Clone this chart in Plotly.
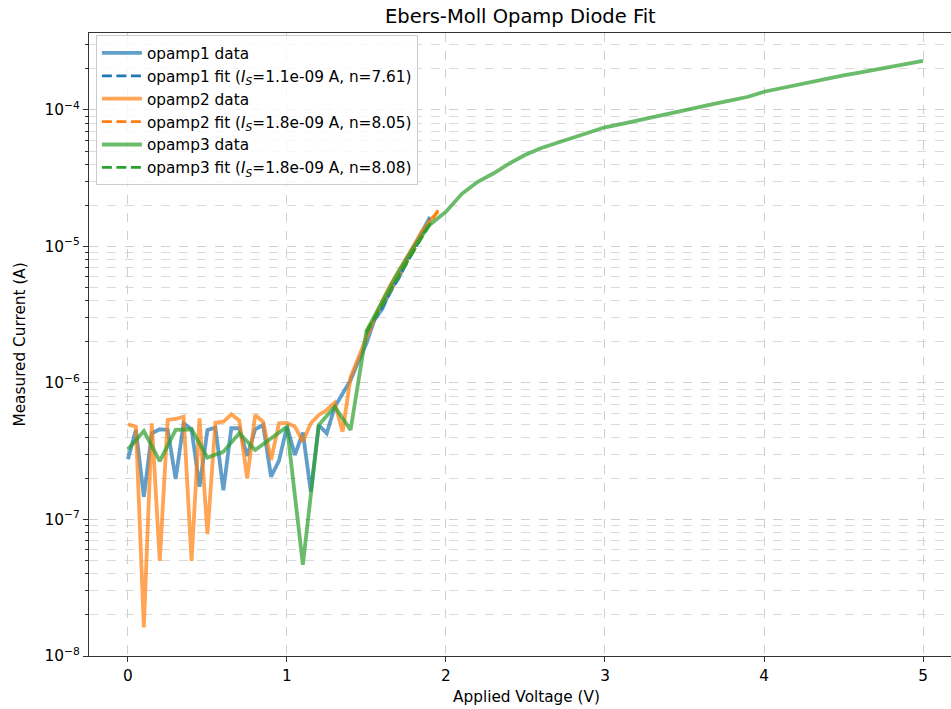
import plotly.graph_objects as go

# ---------------- data ----------------
v_fine = [round(i * 0.05, 2) for i in range(40)]          # 0.00 .. 1.95
v_coarse = [round(i * 0.1, 1) for i in range(51)]          # 0.0 .. 5.0

opamp1_v = v_fine[:39]                                      # 0.00 .. 1.90
opamp1_i = [2.76e-7, 4.53e-7, 1.47e-7, 4.28e-7, 4.58e-7, 4.53e-7, 1.98e-7, 5.07e-7,
            4.58e-7, 1.74e-7, 4.53e-7, 4.71e-7, 1.64e-7, 4.66e-7, 4.66e-7, 2.92e-7,
            4.58e-7, 4.92e-7, 2.06e-7, 2.70e-7, 4.79e-7, 2.97e-7, 4.33e-7, 1.60e-7,
            4.92e-7, 4.28e-7, 6.66e-7, 8.41e-7, 1.05e-6, 1.45e-6, 1.95e-6, 2.90e-6,
            3.50e-6, 4.80e-6, 5.80e-6, 7.80e-6, 1.00e-5, 1.30e-5, 1.65e-5]

opamp2_v = v_fine                                           # 0.00 .. 1.95
opamp2_i = [4.98e-7, 4.79e-7, 1.62e-8, 5.07e-7, 4.97e-8, 5.36e-7, 5.45e-7, 5.66e-7,
            4.97e-8, 5.51e-7, 7.83e-8, 5.12e-7, 5.20e-7, 5.90e-7, 5.30e-7, 2.00e-7,
            5.83e-7, 5.20e-7, 2.73e-7, 5.07e-7, 5.10e-7, 4.79e-7, 3.72e-7, 5.07e-7,
            5.83e-7, 6.34e-7, 7.17e-7, 4.40e-7, 1.10e-6, 1.55e-6, 2.10e-6, 3.00e-6,
            4.00e-6, 5.20e-6, 6.50e-6, 8.20e-6, 1.05e-5, 1.30e-5, 1.55e-5, 1.80e-5]

opamp3_v = v_coarse                                         # 0.0 .. 5.0
opamp3_i = [3.27e-7, 4.45e-7, 2.68e-7, 4.53e-7, 4.58e-7, 2.84e-7, 3.14e-7, 4.28e-7,
            3.23e-7, 3.93e-7, 4.79e-7, 4.65e-8, 4.92e-7, 6.70e-7, 4.53e-7, 2.40e-6,
            4.00e-6, 6.50e-6, 1.00e-5, 1.45e-5, 1.80e-5, 2.43e-5, 2.98e-5, 3.44e-5,
            4.07e-5, 4.70e-5, 5.27e-5, 5.73e-5, 6.25e-5, 6.85e-5, 7.47e-5, 7.88e-5,
            8.37e-5, 8.89e-5, 9.43e-5, 1.00e-4, 1.06e-4, 1.12e-4, 1.18e-4, 1.25e-4,
            1.36e-4, 1.44e-4, 1.52e-4, 1.61e-4, 1.69e-4, 1.79e-4, 1.88e-4, 1.97e-4,
            2.07e-4, 2.18e-4, 2.29e-4]

fit1_v = [1.50, 1.55, 1.60, 1.65, 1.70, 1.75, 1.80, 1.85, 1.90]
fit1_i = [2.25e-6, 2.90e-6, 3.60e-6, 4.60e-6, 5.80e-6, 7.40e-6, 9.40e-6, 1.20e-5, 1.60e-5]
fit2_v = [1.50, 1.55, 1.60, 1.65, 1.70, 1.75, 1.80, 1.85, 1.90, 1.95]
fit2_i = [2.40e-6, 3.00e-6, 3.80e-6, 4.70e-6, 6.00e-6, 7.50e-6, 9.40e-6, 1.18e-5, 1.48e-5, 1.85e-5]
fit3_v = [1.5, 1.6, 1.7, 1.8, 1.9]
fit3_i = [2.35e-6, 3.80e-6, 6.00e-6, 9.40e-6, 1.47e-5]

names = ["opamp1 data", "opamp1 fit (<i>I<sub>S</sub></i>=1.1e-09 A, n=7.61)",
         "opamp2 data", "opamp2 fit (<i>I<sub>S</sub></i>=1.8e-09 A, n=8.05)",
         "opamp3 data", "opamp3 fit (<i>I<sub>S</sub></i>=1.8e-09 A, n=8.08)"]

x_ticks = [0, 1, 2, 3, 4, 5]
y_major = [1e-8, 1e-7, 1e-6, 1e-5, 1e-4]
y_major_text = ["10<sup>−8</sup>", "10<sup>−7</sup>", "10<sup>−6</sup>",
                "10<sup>−5</sup>", "10<sup>−4</sup>"]
y_minor = [m * 10 ** e for e in range(-8, -3) for m in range(2, 10)]

# ---------------- figure ----------------
FONT = "DejaVu Sans"
FS = 15.3
C1, C2, C3 = "#1f77b4", "#ff7f0e", "#2ca02c"

fig = go.Figure()
series = [
    (opamp1_v, opamp1_i, fit1_v, fit1_i, C1),
    (opamp2_v, opamp2_i, fit2_v, fit2_i, C2),
    (opamp3_v, opamp3_i, fit3_v, fit3_i, C3),
]
for k, (dv, di, fv, fi, c) in enumerate(series):
    fig.add_trace(go.Scatter(x=dv, y=di, mode="lines", name=names[2 * k],
                             line=dict(color=c, width=3.8), opacity=0.7))
    fig.add_trace(go.Scatter(x=fv, y=fi, mode="lines", name=names[2 * k + 1],
                             line=dict(color=c, width=2.8, dash="10px,4.5px")))

fig.update_layout(
    width=951, height=709,
    margin=dict(l=89, r=0, t=33, b=53),
    paper_bgcolor="white", plot_bgcolor="white",
    font=dict(family=FONT, size=FS, color="black"),
    showlegend=True,
    legend=dict(x=0.008, y=0.996, xanchor="left", yanchor="top",
                bgcolor="rgba(255,255,255,0.8)", bordercolor="#cccccc", borderwidth=1,
                font=dict(family=FONT, size=FS), tracegroupgap=0, itemwidth=40),
    annotations=[
        dict(text="Ebers-Moll Opamp Diode Fit", xref="paper", yref="paper",
             x=0.5, y=1, yshift=17, xanchor="center", yanchor="middle",
             showarrow=False, font=dict(family=FONT, size=19.5)),
        dict(text="Applied Voltage (V)", xref="paper", yref="paper",
             x=0.507, y=0, yshift=-41, xanchor="center", yanchor="middle",
             showarrow=False, font=dict(family=FONT, size=FS)),
        dict(text="Measured Current (A)", xref="paper", yref="paper",
             x=0, xshift=-70, y=0.5, xanchor="center", yanchor="middle",
             textangle=-90, showarrow=False, font=dict(family=FONT, size=FS)),
    ],
)

fig.update_xaxes(
    range=[-0.245, 5.176], tickvals=x_ticks, ticktext=[str(t) for t in x_ticks],
    ticks="outside", ticklen=5, tickwidth=1.2, tickcolor="#333333",
    showline=True, linecolor="#333333", linewidth=1.3, mirror=True,
    showgrid=True, gridcolor="#cfcfcf", griddash="dash", gridwidth=1,
    zeroline=False, tickfont=dict(family=FONT, size=FS),
)
fig.update_yaxes(
    type="log", range=[-8, -3.436],
    tickvals=y_major, ticktext=y_major_text,
    ticks="outside", ticklen=5, tickwidth=1.2, tickcolor="#333333",
    showline=True, linecolor="#333333", linewidth=1.3, mirror=False,
    showgrid=True, gridcolor="#cfcfcf", griddash="dash", gridwidth=1,
    zeroline=False, tickfont=dict(family=FONT, size=FS),
    minor=dict(tickvals=y_minor, ticks="outside", ticklen=3, tickcolor="#333333",
               showgrid=True, gridcolor="#dadada", griddash="dash", gridwidth=1),
)

fig.write_html("out.html", config={"displayModeBar": False},
               post_script="document.body.style.margin='0';document.body.style.padding='0';")
